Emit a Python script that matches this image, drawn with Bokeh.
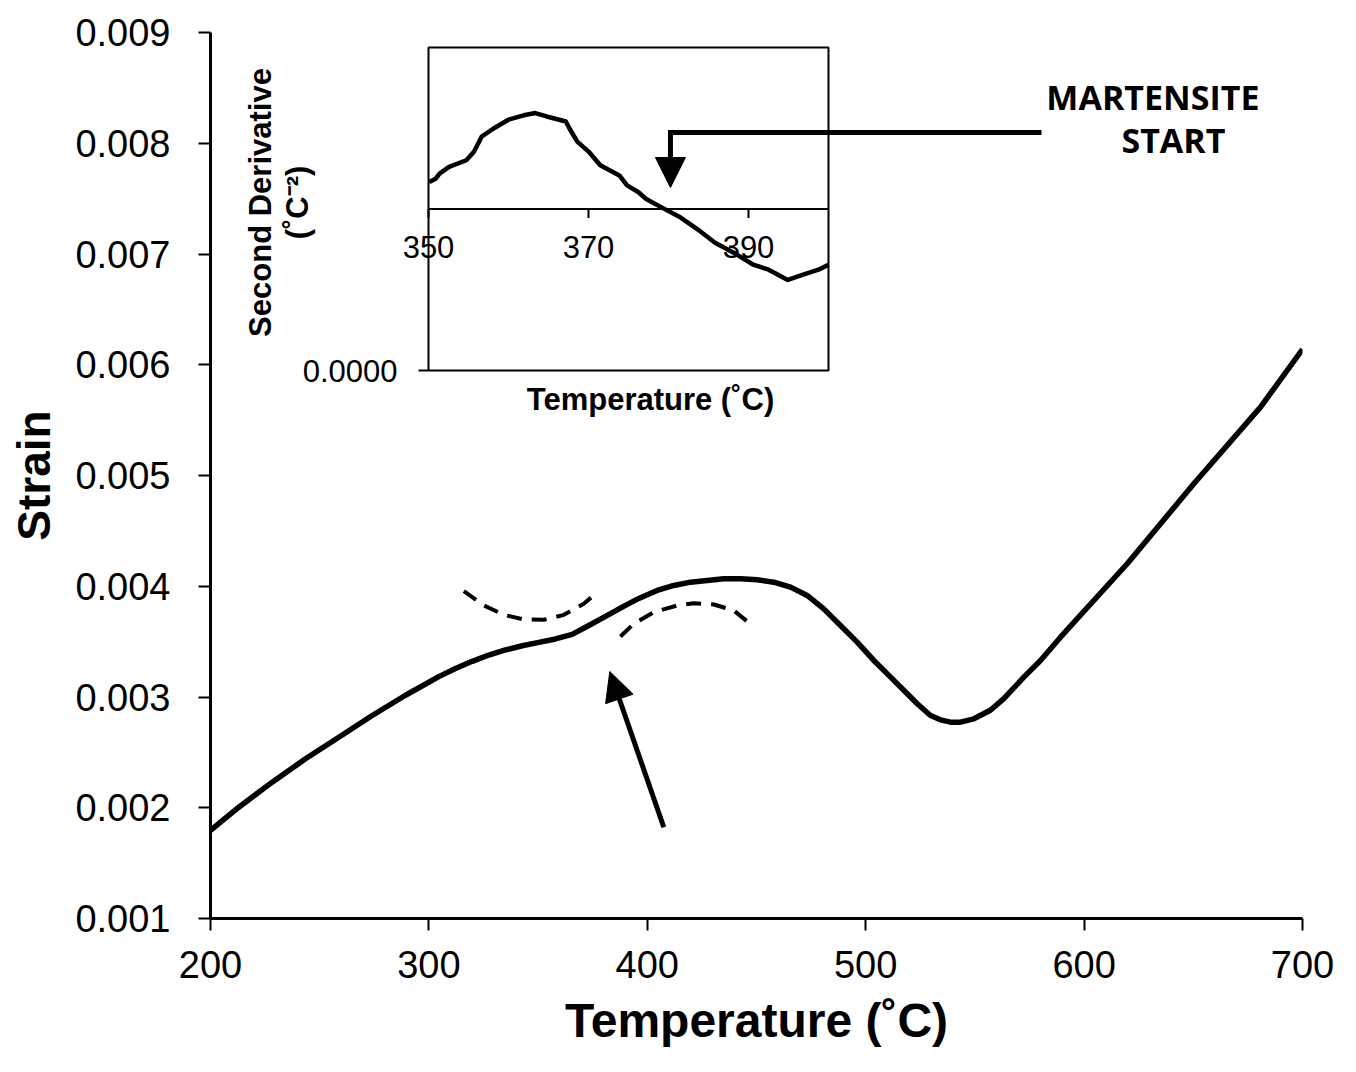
import math
from bokeh.plotting import figure
from bokeh.models import Range1d, FixedTicker, Arrow, NormalHead
from bokeh.embed import file_html
from bokeh.resources import INLINE
from bokeh.core.properties import value

# ---------------- data ----------------
temperature = [200.0, 212.96, 228.25, 243.50, 258.75, 274.04, 289.29, 304.53, 312.18, 319.83,
               327.43, 335.07, 342.72, 350.32, 357.97, 365.61, 373.21, 380.86, 388.51, 396.11,
               404.5, 412.13, 419.8, 427.43, 435.0, 442.67, 450.3, 457.92, 465.6, 473.21,
               480.8, 488.46, 496.1, 503.71, 511.4, 519.00, 523.6, 529.67, 534.2, 538.83,
               543.4, 549.50, 557.1, 563.23, 572.4, 580.04, 589.19, 619.74, 650.23, 680.77,
               700.0]
strain = [0.001795, 0.002005, 0.002231, 0.002442, 0.002637, 0.002833, 0.003016, 0.003184, 0.003257, 0.003322,
          0.003379, 0.003425, 0.003463, 0.003493, 0.003524, 0.003566, 0.003646, 0.003728, 0.003811, 0.003890,
          0.003962, 0.004007, 0.004037, 0.004052, 0.004067, 0.004067, 0.004058, 0.004037, 0.003992, 0.003917,
          0.003796, 0.003646, 0.003495, 0.003330, 0.003179, 0.003029, 0.002939, 0.002833, 0.002794, 0.002773,
          0.002773, 0.002803, 0.002880, 0.002985, 0.003179, 0.003330, 0.003540, 0.004203, 0.004925, 0.005617,
          0.006140]

arc_upper_t = [316.0, 325.2, 334.3, 343.5, 352.6, 361.8, 370.9, 376.3]
arc_upper_s = [0.003955, 0.003826, 0.003742, 0.003700, 0.003697, 0.003742, 0.003842, 0.003932]
arc_lower_t = [387.7, 393.8, 403.0, 413.7, 421.3, 430.5, 439.6, 448.0]
arc_lower_s = [0.003546, 0.003661, 0.003766, 0.003826, 0.003847, 0.003835, 0.003781, 0.003646]

inset_t = [350.08, 350.90, 351.38, 352.57, 354.73, 355.68, 356.64, 358.08, 359.99, 361.90,
           363.34, 364.78, 367.17, 367.64, 368.60, 370.04, 371.47, 373.86, 374.82, 376.25,
           377.21, 379.13, 381.52, 383.91, 385.82, 388.21, 390.60, 392.52, 394.91, 396.83,
           398.75, 400.0]
inset_d = [11.67, 11.88, 12.19, 12.61, 13.02, 13.54, 14.48, 14.97, 15.53, 15.80,
           15.94, 15.73, 15.42, 14.97, 14.17, 13.54, 12.71, 12.08, 11.46, 11.04,
           10.62, 10.10, 9.47, 8.64, 7.91, 7.28, 6.55, 6.24, 5.61, 5.93,
           6.24, 6.55]

x_ticks = [200, 300, 400, 500, 600, 700]
x_tick_labels = ["200", "300", "400", "500", "600", "700"]
y_ticks = [0.001, 0.002, 0.003, 0.004, 0.005, 0.006, 0.007, 0.008, 0.009]
y_tick_labels = ["0.001", "0.002", "0.003", "0.004", "0.005", "0.006", "0.007", "0.008", "0.009"]

inset_x_lim = [350, 400]
inset_y_lim = [0, 20]
inset_x_ticks = [350, 370, 390]
inset_x_tick_labels = ["350", "370", "390"]
inset_axis_cross = 10.0
inset_y_ticks = [0]
inset_y_tick_labels = ["0.0000"]

# ---------------- layout ----------------
FRAME_L, FRAME_T, FRAME_W, FRAME_H = 210, 32, 1092, 886
BOX_L, BOX_R, BOX_T, BOX_B = 428, 828, 47, 370

p = figure(frame_width=FRAME_W, frame_height=FRAME_H,
           x_range=Range1d(200, 700), y_range=Range1d(0.001, 0.009),
           output_backend="svg", toolbar_location=None,
           min_border_left=FRAME_L, min_border_top=FRAME_T,
           min_border_right=1356 - FRAME_L - FRAME_W,
           min_border_bottom=1072 - FRAME_T - FRAME_H)
p.outline_line_color = None
p.grid.visible = False
p.background_fill_color = "white"
p.border_fill_color = "white"

FONT = "Liberation Sans"
for ax in (p.xaxis[0], p.yaxis[0]):
    ax.axis_line_width = 3
    ax.axis_line_color = "black"
    ax.major_tick_line_width = 2
    ax.major_tick_line_color = "black"
    ax.major_tick_out = 12
    ax.major_tick_in = 0
    ax.minor_tick_out = 0
    ax.minor_tick_in = 0
    ax.major_label_text_font = FONT
    ax.major_label_text_font_size = "38px"
    ax.major_label_text_color = "black"
    ax.axis_label_text_font = FONT
    ax.axis_label_text_font_style = "bold"
    ax.axis_label_text_color = "black"

p.xaxis.ticker = FixedTicker(ticks=x_ticks)
p.xaxis.major_label_overrides = dict(zip(x_ticks, x_tick_labels))
p.xaxis.axis_label = "Temperature (˚C)"
p.xaxis.axis_label_text_font_size = "48px"
p.xaxis.major_label_standoff = 20
p.xaxis.axis_label_standoff = 13

p.yaxis.ticker = FixedTicker(ticks=y_ticks)
p.yaxis.major_label_overrides = dict(zip(y_ticks, y_tick_labels))
p.yaxis.axis_label = "Strain"
p.yaxis.axis_label_text_font_size = "46px"
p.yaxis.major_label_standoff = 28
p.yaxis.axis_label_standoff = 12

# main curve and guide arcs
p.line(temperature, strain, line_color="black", line_width=5.5, line_join="round")
p.line(arc_upper_t, arc_upper_s, line_color="black", line_width=4, line_dash="15 10")
p.line(arc_lower_t, arc_lower_s, line_color="black", line_width=4, line_dash="15 10")

# ---------------- inset (extra ranges mapped onto a sub-box of the frame) ----------------
ppu_x = (BOX_R - BOX_L) / (inset_x_lim[1] - inset_x_lim[0])
ppu_y = (BOX_B - BOX_T) / (inset_y_lim[1] - inset_y_lim[0])
ix_start = inset_x_lim[0] - (BOX_L - FRAME_L) / ppu_x
iy_start = inset_y_lim[0] - (FRAME_T + FRAME_H - BOX_B) / ppu_y
p.extra_x_ranges = {"ix": Range1d(ix_start, ix_start + FRAME_W / ppu_x)}
p.extra_y_ranges = {"iy": Range1d(iy_start, iy_start + FRAME_H / ppu_y)}
IR = dict(x_range_name="ix", y_range_name="iy")

p.quad(left=[inset_x_lim[0]], right=[inset_x_lim[1]], bottom=[inset_y_lim[0]], top=[inset_y_lim[1]],
       fill_color="white", line_color="black", line_width=2, **IR)
p.segment(x0=[inset_x_lim[0]], y0=[inset_axis_cross], x1=[inset_x_lim[1]], y1=[inset_axis_cross],
          line_color="black", line_width=2, **IR)
p.segment(x0=inset_x_ticks, y0=[inset_axis_cross] * 3, x1=inset_x_ticks,
          y1=[inset_axis_cross - 9 / ppu_y] * 3, line_color="black", line_width=2, **IR)
p.segment(x0=[inset_x_lim[0] - 10 / ppu_x], y0=inset_y_ticks, x1=[inset_x_lim[0]], y1=inset_y_ticks,
          line_color="black", line_width=2, **IR)
p.line(inset_t, inset_d, line_color="black", line_width=4.5, line_join="round", **IR)

p.text(x=inset_x_ticks, y=[inset_axis_cross] * 3, text=inset_x_tick_labels,
       text_align="center", text_baseline="middle", y_offset=38,
       text_font=value(FONT), text_font_size="31px", text_color="black", **IR)
p.text(x=[inset_x_lim[0]], y=inset_y_ticks, text=inset_y_tick_labels,
       text_align="right", text_baseline="middle", x_offset=-31,
       text_font=value(FONT), text_font_size="31px", text_color="black", **IR)
p.text(x=[(inset_x_lim[0] + inset_x_lim[1]) / 2], y=[inset_y_lim[0]], text=["Temperature (˚C)"],
       text_align="center", text_baseline="middle", x_offset=22, y_offset=29,
       text_font=value(FONT), text_font_size="31px", text_font_style="bold", text_color="black", **IR)
ymid = (BOX_B - 202) / ppu_y
p.text(x=[inset_x_lim[0]], y=[ymid], text=["Second Derivative"], angle=math.pi / 2,
       text_align="center", text_baseline="middle", x_offset=-168,
       text_font=value(FONT), text_font_size="31px", text_font_style="bold", text_color="black", **IR)
p.text(x=[inset_x_lim[0]], y=[ymid], text=["(˚C⁻²)"], angle=math.pi / 2,
       text_align="center", text_baseline="middle", x_offset=-131,
       text_font=value(FONT), text_font_size="31px", text_font_style="bold", text_color="black", **IR)

# ---------------- annotations ----------------
p.text(x=[631.5], y=[0.008418], text=["MARTENSITE"], text_align="center", text_baseline="middle",
       text_font=value("Open Sans"), text_font_size="34px", text_font_style="bold", text_color="black")
p.text(x=[640.9], y=[0.008025], text=["START"], text_align="center", text_baseline="middle",
       text_font=value("Open Sans"), text_font_size="34px", text_font_style="bold", text_color="black")

p.line([580.5, 410.6, 410.6], [0.008097, 0.008097, 0.00785], line_color="black", line_width=5,
       line_join="miter")
p.add_layout(Arrow(end=NormalHead(size=30, fill_color="black", line_color="black", line_width=1),
                   x_start=410.6, y_start=0.00790, x_end=410.6, y_end=0.0076005,
                   line_color="black", line_width=5))
p.add_layout(Arrow(end=NormalHead(size=29, fill_color="black", line_color="black", line_width=1),
                   x_start=407.55, y_start=0.001824, x_end=382.83, y_end=0.003230,
                   line_color="black", line_width=5))

open("out.html", "w").write(file_html(p, INLINE))
